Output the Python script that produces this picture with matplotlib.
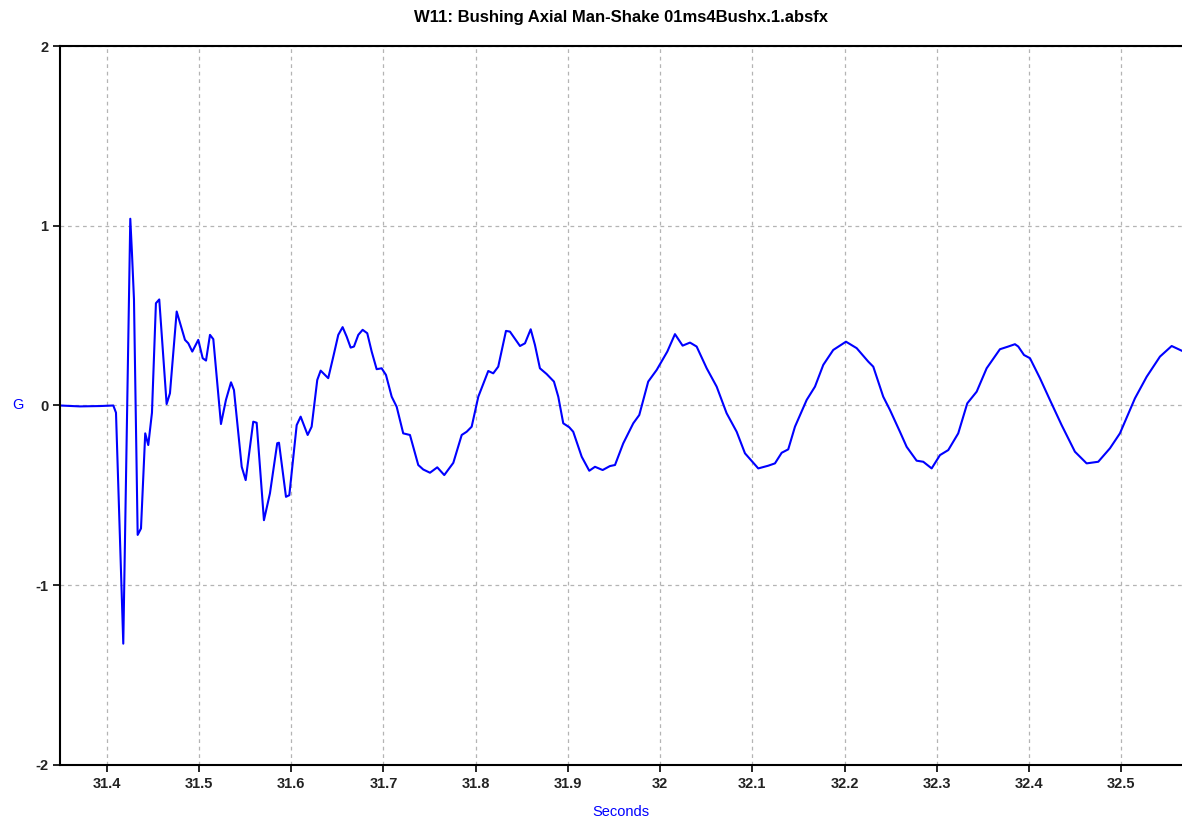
import numpy as np
import matplotlib
matplotlib.use('Agg')
from matplotlib import pyplot as plt
from matplotlib.ticker import FormatStrFormatter, FuncFormatter

# accelerometer trace, time in seconds and acceleration in G
t = [
    31.3494, 31.371, 31.3927, 31.4072, 31.4101, 31.418, 31.4256, 31.4274,
    31.4296, 31.4336, 31.4372, 31.4418, 31.4451, 31.4491, 31.4534, 31.457,
    31.465, 31.4686, 31.4759, 31.4849, 31.4885, 31.4928, 31.4993, 31.5041,
    31.5077, 31.512, 31.5156, 31.5239, 31.5293, 31.5348, 31.538, 31.5464,
    31.5507, 31.5589, 31.5626, 31.5705, 31.577, 31.5849, 31.5868, 31.5944,
    31.598, 31.606, 31.6103, 31.6179, 31.6222, 31.6283, 31.632, 31.6402,
    31.6457, 31.6511, 31.6558, 31.6602, 31.6645, 31.6681, 31.6728, 31.6775,
    31.6825, 31.6873, 31.6927, 31.6981, 31.7028, 31.709, 31.7144, 31.7215,
    31.7288, 31.7378, 31.7432, 31.7505, 31.7584, 31.766, 31.7758, 31.7849,
    31.7903, 31.7957, 31.8029, 31.8137, 31.8191, 31.8245, 31.8329, 31.8372,
    31.8481, 31.8535, 31.8597, 31.8643, 31.8697, 31.877, 31.8849, 31.8896,
    31.895, 31.9015, 31.9058, 31.915, 31.9232, 31.9294, 31.9377, 31.9456,
    31.9511, 31.96, 31.9709, 31.9774, 31.9871, 31.9963, 32.0078, 32.0161,
    32.0244, 32.0324, 32.0396, 32.0505, 32.0613, 32.0721, 32.083, 32.092,
    32.1064, 32.1172, 32.1245, 32.1318, 32.1389, 32.1462, 32.1589, 32.1679,
    32.1769, 32.1877, 32.2015, 32.2131, 32.2257, 32.2311, 32.2419, 32.2492,
    32.26, 32.2673, 32.2781, 32.2853, 32.2944, 32.3034, 32.3124, 32.3232,
    32.333, 32.3432, 32.354, 32.3684, 32.3774, 32.3847, 32.3883, 32.3945,
    32.401, 32.4118, 32.4226, 32.4353, 32.4497, 32.4624, 32.475, 32.4877,
    32.4985, 32.5148, 32.5275, 32.5419, 32.5546, 32.5654,
]
g = [
    0.0, -0.005, -0.003, 0.0, -0.04, -1.325, 1.039, 0.85,
    0.59, -0.72, -0.684, -0.155, -0.22, -0.04, 0.569, 0.59,
    0.008, 0.068, 0.523, 0.365, 0.346, 0.30, 0.365, 0.263,
    0.25, 0.393, 0.369, -0.103, 0.031, 0.129, 0.086, -0.341,
    -0.415, -0.09, -0.096, -0.638, -0.489, -0.21, -0.207, -0.508,
    -0.499, -0.109, -0.062, -0.164, -0.118, 0.142, 0.194, 0.152,
    0.272, 0.393, 0.436, 0.383, 0.322, 0.328, 0.393, 0.421,
    0.402, 0.30, 0.202, 0.207, 0.17, 0.049, -0.007, -0.155,
    -0.164, -0.331, -0.356, -0.374, -0.344, -0.387, -0.319, -0.164,
    -0.146, -0.118, 0.049, 0.192, 0.179, 0.216, 0.415, 0.411,
    0.331, 0.346, 0.424, 0.337, 0.207, 0.175, 0.133, 0.049,
    -0.099, -0.121, -0.146, -0.285, -0.363, -0.341, -0.359, -0.337,
    -0.331, -0.211, -0.099, -0.053, 0.133, 0.198, 0.30, 0.397,
    0.333, 0.35, 0.328, 0.207, 0.105, -0.043, -0.146, -0.266,
    -0.35, -0.335, -0.322, -0.263, -0.244, -0.118, 0.031, 0.105,
    0.226, 0.309, 0.355, 0.319, 0.244, 0.216, 0.049, -0.025,
    -0.146, -0.23, -0.307, -0.313, -0.35, -0.276, -0.248, -0.155,
    0.012, 0.077, 0.207, 0.313, 0.328, 0.341, 0.328, 0.281,
    0.263, 0.152, 0.031, -0.109, -0.257, -0.322, -0.313, -0.238,
    -0.155, 0.04, 0.16, 0.272, 0.331, 0.305,
]

x_ticks = [31.4, 31.5, 31.6, 31.7, 31.8, 31.9, 32.0, 32.1, 32.2, 32.3, 32.4, 32.5]
y_ticks = [-2, -1, 0, 1, 2]

plt.rcParams['font.family'] = ['Liberation Sans', 'DejaVu Sans']

fig = plt.figure(figsize=(11.82, 8.17), dpi=100)
ax = fig.add_axes([60 / 1182, 1 - 765 / 817, 1 - 60 / 1182, (765 - 46) / 817])

ax.plot(t, g, color='#0000ff', lw=1.5, solid_joinstyle='round')

ax.set_xlim(31.3494, 32.5658)
ax.set_ylim(-2, 2)
ax.set_xticks(x_ticks)
ax.set_yticks(y_ticks)
ax.xaxis.set_major_formatter(FuncFormatter(lambda v, p: '%g' % round(v, 2)))
ax.yaxis.set_major_formatter(FormatStrFormatter('%d'))

ax.grid(True, color='#b4b4b4', lw=0.9, linestyle=(0, (3, 3)))
ax.tick_params(direction='out', length=5, width=1.2, colors='black',
               labelsize=10.5, labelcolor='#222222')
for lab in ax.get_xticklabels() + ax.get_yticklabels():
    lab.set_fontweight('bold')

for s in ['left', 'bottom', 'top']:
    ax.spines[s].set_linewidth(1.5)
ax.spines['right'].set_visible(False)

ax.set_title('W11: Bushing Axial Man-Shake 01ms4Bushx.1.absfx',
             fontsize=12, fontweight='bold', pad=17)
ax.set_xlabel('Seconds', color='#0000ff', fontsize=10.5, labelpad=10)
ax.set_ylabel('G', color='#0000ff', fontsize=10.5, rotation=0, labelpad=12,
              va='center')

fig.savefig('out.png', dpi=100)
